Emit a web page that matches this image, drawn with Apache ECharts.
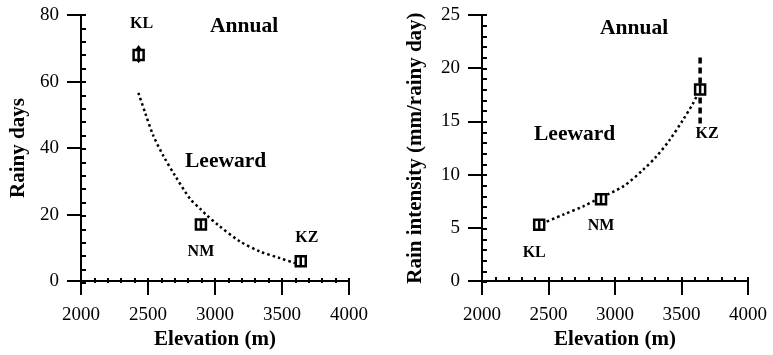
<!DOCTYPE html>
<html>
<head>
<meta charset="utf-8">
<script src="https://cdn.jsdelivr.net/npm/echarts@6/dist/echarts.min.js"></script>
<style>
  html, body { margin: 0; padding: 0; background: #fff; }
  #chart { width: 773px; height: 355px; }
</style>
</head>
<body>
<div id="chart"></div>
<script>
// Stations and their elevations (m)
const stations = ['KL', 'NM', 'KZ'];
const elevation = [2430, 2895, 3640];

// Annual rainy days per station, with the KL spread
const rainyDays = [68, 17, 6];
const rainyDaysRangeKL = [65.5, 71];

// Annual rain intensity (mm/rainy day), with the KZ spread
const rainIntensity = [5.3, 7.7, 18.0];
const intensityRangeKZ = [14.5, 21];

// Fitted trend through rainy days
const fitDaysElev = [2428, 2478, 2540, 2614, 2702, 2813, 2888, 2938, 3025, 3187, 3336, 3485, 3597];
const fitDaysValue = [56.6, 50.7, 43.7, 37.7, 31.7, 24.8, 21.8, 19.8, 16.8, 11.9, 8.9, 6.9, 5.4];

// Fitted trend through rain intensity
const fitIntElev = [2450, 2612, 2762, 2862, 3062, 3212, 3312, 3412, 3512, 3587, 3615];
const fitIntValue = [5.4, 6.25, 7.03, 7.66, 8.9, 10.47, 11.72, 13.28, 15.16, 16.7, 17.4];

// Axis tick labels
const elevTicks = [2000, 2500, 3000, 3500, 4000];
const daysTicks = [0, 20, 40, 60, 80];
const intTicks = [0, 5, 10, 15, 20, 25];

const FONT = '"Liberation Serif", "DejaVu Serif", serif';
const INK = '#000';

const zip = (xs, ys) => xs.map((x, i) => [x, ys[i]]);

// Station name label offsets per panel
const daysLabelOffset = { KL: [3, -31], NM: [0, 27], KZ: [6, -23] };
const intLabelOffset = { KL: [-5, 28], NM: [0, 27], KZ: [7, 44] };

const markerPath = 'path://M0,0L10,0L10,10L0,10Z M5,1L5,9';

function mainX(gridIndex) {
  return {
    type: 'value', gridIndex, min: elevTicks[0], max: elevTicks[elevTicks.length - 1],
    interval: elevTicks[1] - elevTicks[0],
    name: 'Elevation (m)', nameLocation: 'middle', nameGap: 46,
    nameTextStyle: { fontFamily: FONT, fontWeight: 'bold', fontSize: 21, color: INK },
    axisLine: { show: true, onZero: false, lineStyle: { color: INK, width: 2 } },
    axisTick: { show: true, inside: false, length: 14, lineStyle: { color: INK, width: 2 } },
    axisLabel: { fontFamily: FONT, fontSize: 19, color: INK, margin: 24, formatter: v => String(v) },
    splitLine: { show: false }
  };
}
function minorX(gridIndex) {
  return {
    type: 'value', gridIndex, min: elevTicks[0], max: elevTicks[elevTicks.length - 1], interval: 100,
    axisLine: { show: false, onZero: false },
    axisTick: { show: true, inside: true, length: 5, lineStyle: { color: INK, width: 2 } },
    axisLabel: { show: false }, splitLine: { show: false }
  };
}
function mainY(gridIndex, ticks, name, nameGap) {
  return {
    type: 'value', gridIndex, min: ticks[0], max: ticks[ticks.length - 1], interval: ticks[1] - ticks[0],
    name, nameLocation: 'middle', nameGap,
    nameTextStyle: { fontFamily: FONT, fontWeight: 'bold', fontSize: 21, color: INK },
    axisLine: { show: true, onZero: false, lineStyle: { color: INK, width: 2 } },
    axisTick: { show: true, inside: false, length: 14, lineStyle: { color: INK, width: 2 } },
    axisLabel: { fontFamily: FONT, fontSize: 19, color: INK, margin: 22, formatter: v => String(v) },
    splitLine: { show: false }
  };
}
function minorY(gridIndex, ticks, step) {
  return {
    type: 'value', gridIndex, min: ticks[0], max: ticks[ticks.length - 1], interval: step,
    axisLine: { show: false, onZero: false },
    axisTick: { show: true, inside: true, length: 5, lineStyle: { color: INK, width: 2 } },
    axisLabel: { show: false }, splitLine: { show: false }
  };
}

function stationSeries(xIdx, yIdx, values, offsets) {
  return {
    type: 'scatter', xAxisIndex: xIdx, yAxisIndex: yIdx, z: 5,
    symbol: markerPath, symbolSize: 10,
    itemStyle: { color: '#fff', borderColor: INK, borderWidth: 2.5, opacity: 1 },
    data: stations.map((s, i) => ({
      name: s, value: [elevation[i], values[i]],
      label: { show: true, formatter: s, position: 'inside', offset: offsets[s],
        fontFamily: FONT, fontWeight: 'bold', fontSize: 16, color: INK,
        textBorderWidth: 0, textBorderColor: 'transparent' }
    }))
  };
}

function trendSeries(xIdx, yIdx, xs, ys) {
  return {
    type: 'line', xAxisIndex: xIdx, yAxisIndex: yIdx, smooth: 0.3, symbol: 'none', z: 3,
    lineStyle: { color: INK, width: 2.5, type: [2.5, 3] },
    data: zip(xs, ys)
  };
}

// Vertical spread bar with arrow heads (KL rainy days)
function arrowBar(params, api) {
  const x = api.value(0);
  const top = api.coord([x, api.value(2)]);
  const bot = api.coord([x, api.value(1)]);
  return {
    type: 'group',
    children: [
      { type: 'line', shape: { x1: top[0], y1: top[1] + 3, x2: bot[0], y2: bot[1] - 3 },
        style: { stroke: INK, lineWidth: 2 } },
      { type: 'polygon', shape: { points: [[top[0], top[1]], [top[0] - 3.5, top[1] + 5], [top[0] + 3.5, top[1] + 5]] },
        style: { fill: INK } },
      { type: 'polygon', shape: { points: [[bot[0], bot[1]], [bot[0] - 3.5, bot[1] - 5], [bot[0] + 3.5, bot[1] - 5]] },
        style: { fill: INK } }
    ]
  };
}

// Thick dashed spread bar (KZ rain intensity)
function dashedBar(params, api) {
  const x = api.value(0);
  const top = api.coord([x, api.value(2)]);
  const bot = api.coord([x, api.value(1)]);
  return {
    type: 'line', shape: { x1: top[0], y1: top[1], x2: bot[0], y2: bot[1] },
    style: { stroke: INK, lineWidth: 3.5, lineDash: [6, 4] }
  };
}

function note(text, left, top, size) {
  return { type: 'text', left, top,
    style: { text, fontFamily: FONT, fontWeight: 'bold', fontSize: size, fill: INK } };
}

const chart = echarts.init(document.getElementById('chart'), null, { renderer: 'canvas' });
chart.setOption({
  backgroundColor: '#fff',
  animation: false,
  grid: [
    { left: 81, top: 15, width: 268, height: 268 },
    { left: 81, top: 15, width: 268, height: 268 },
    { left: 482, top: 15, width: 266, height: 267 },
    { left: 482, top: 15, width: 266, height: 267 }
  ],
  xAxis: [mainX(0), minorX(1), mainX(2), minorX(3)],
  yAxis: [
    mainY(0, daysTicks, 'Rainy days', 52),
    minorY(1, daysTicks, 4),
    mainY(2, intTicks, 'Rain intensity (mm/rainy day)', 56),
    minorY(3, intTicks, 1)
  ],
  graphic: [
    note('Annual', 210, 15, 21.5),
    note('Leeward', 185, 150, 21.5),
    note('Annual', 600, 17, 21.5),
    note('Leeward', 534, 123, 21.5)
  ],
  series: [
    trendSeries(0, 0, fitDaysElev, fitDaysValue),
    {
      type: 'custom', xAxisIndex: 0, yAxisIndex: 0, z: 4, renderItem: arrowBar,
      data: [[elevation[0], rainyDaysRangeKL[0], rainyDaysRangeKL[1]]]
    },
    stationSeries(0, 0, rainyDays, daysLabelOffset),
    trendSeries(2, 2, fitIntElev, fitIntValue),
    {
      type: 'custom', xAxisIndex: 2, yAxisIndex: 2, z: 4, renderItem: dashedBar,
      data: [[elevation[2], intensityRangeKZ[0], intensityRangeKZ[1]]]
    },
    stationSeries(2, 2, rainIntensity, intLabelOffset)
  ]
});
</script>
</body>
</html>
